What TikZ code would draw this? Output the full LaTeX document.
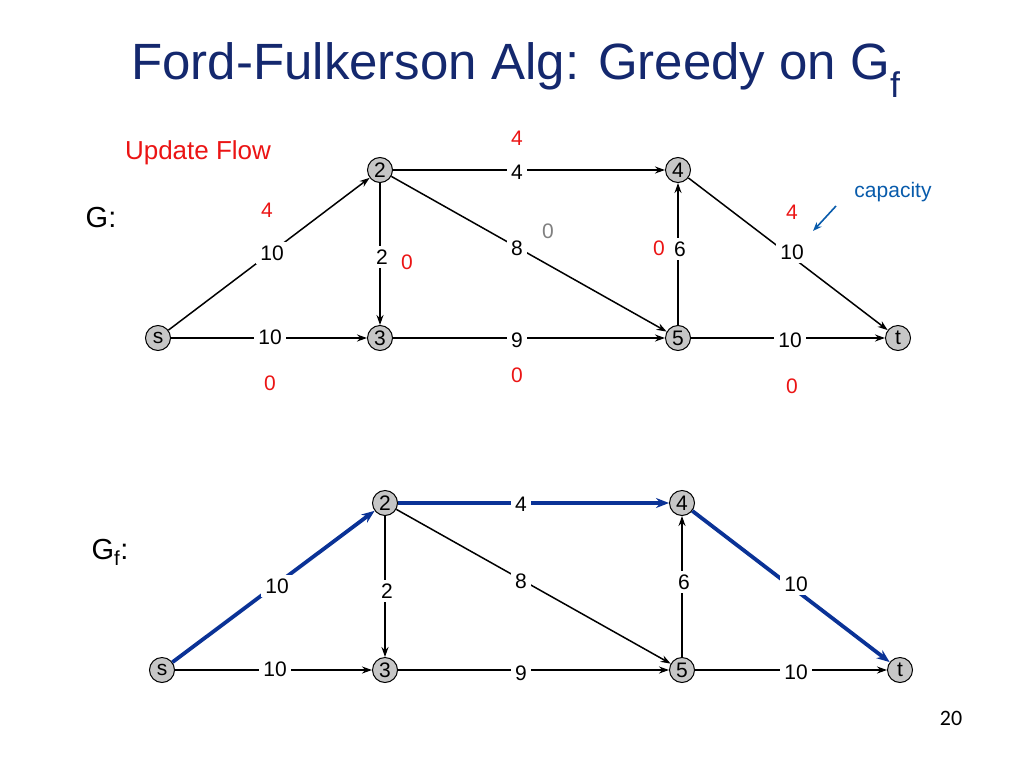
\documentclass[tikz,border=0pt]{standalone}
\usepackage{fontspec}
\setmainfont{Liberation Sans}
\newfontfamily\pgfont{Carlito}
\usetikzlibrary{arrows.meta}
\definecolor{ttl}{RGB}{20,40,110}
\definecolor{pathblue}{RGB}{10,50,150}
\definecolor{redf}{RGB}{235,20,20}
\begin{document}
\begin{tikzpicture}[x=1pt,y=-1pt,
  vert/.style={circle,draw,fill=gray!45,line width=1pt,minimum size=25pt,inner sep=0pt,font=\fontsize{21}{21}\selectfont},
  edge/.style={line width=1.5pt,-{Stealth[length=10pt,width=7pt]}},
  pth/.style={line width=3.8pt,draw=pathblue,-{Stealth[length=13pt,width=10pt]}},
  lab/.style={fill=white,inner sep=4pt,font=\fontsize{21}{21}\selectfont},
  flow/.style={text=redf,font=\fontsize{21}{21}\selectfont},
  ]
\useasboundingbox (0,0) rectangle (1024,768);
\node (title) at (516,70) {\textcolor{ttl}{\fontsize{51}{51}\selectfont Ford-Fulkerson Alg: Greedy on G\textsubscript{f}}};
\node[text=redf,font=\fontsize{26}{26}\selectfont] (uf) at (198,153) {Update Flow};
\node[font=\fontsize{29}{29}\selectfont] (g) at (101,218) {G:};
\node[font=\fontsize{29}{29}\selectfont] (gf) at (110,552) {G\textsubscript{f}:};
\node[text=pathblue!80!cyan,font=\fontsize{21}{21}\selectfont] (cap) at (893,192) {capacity};
\coordinate (ca) at (836,206); \coordinate (cb) at (813,231);
\draw[draw=pathblue!80!cyan,line width=1.6pt,-{Stealth[length=9pt]}] (ca) -- (cb);
\node[font=\pgfont\fontsize{22}{22}\selectfont] (pg) at (951,718) {20};
% top graph
\node[vert] (s) at (158,338) {s};
\node[vert] (n2) at (380,170) {2};
\node[vert] (n3) at (380,338) {3};
\node[vert] (n4) at (678,170) {4};
\node[vert] (n5) at (678,338) {5};
\node[vert] (t) at (898,338) {t};
\draw[edge] (s) -- (n2);
\draw[edge] (s) -- (n3);
\draw[edge] (n2) -- (n3);
\draw[edge] (n2) -- (n4);
\draw[edge] (n2) -- (n5);
\draw[edge] (n3) -- (n5);
\draw[edge] (n5) -- (n4);
\draw[edge] (n4) -- (t);
\draw[edge] (n5) -- (t);
\node[lab] (a1) at (272,253) {10};
\node[lab] (a2) at (382,257) {2};
\node[lab] (a3) at (517,172) {4};
\node[lab] (a4) at (517,248) {8};
\node[lab] (a5) at (680,249) {6};
\node[lab] (a6) at (792,252) {10};
\node[lab] (a7) at (270,337) {10};
\node[lab] (a8) at (517,340) {9};
\node[lab] (a9) at (790,340) {10};
\node[flow] (f1) at (517,138) {4};
\node[flow] (f2) at (267,210) {4};
\node[flow] (f3) at (407,262) {0};
\node[text=gray,font=\fontsize{21}{21}\selectfont] (f4) at (548,231) {0};
\node[flow] (f5) at (659,248) {0};
\node[flow] (f6) at (792,212) {4};
\node[flow] (f7) at (270,383) {0};
\node[flow] (f8) at (517,375) {0};
\node[flow] (f9) at (792,386) {0};
% bottom graph
\node[vert] (bs) at (162,670) {s};
\node[vert] (b2) at (385,503) {2};
\node[vert] (b3) at (385,670) {3};
\node[vert] (b4) at (682,503) {4};
\node[vert] (b5) at (682,670) {5};
\node[vert] (bt) at (900,670) {t};
\draw[pth] (bs) -- (b2);
\draw[edge] (bs) -- (b3);
\draw[edge] (b2) -- (b3);
\draw[pth] (b2) -- (b4);
\draw[edge] (b2) -- (b5);
\draw[edge] (b3) -- (b5);
\draw[edge] (b5) -- (b4);
\draw[pth] (b4) -- (bt);
\draw[edge] (b5) -- (bt);
\node[lab] (c1) at (277,586) {10};
\node[lab] (c2) at (387,591) {2};
\node[lab] (c3) at (521,504) {4};
\node[lab] (c4) at (521,581) {8};
\node[lab] (c5) at (684,582) {6};
\node[lab] (c6) at (796,584) {10};
\node[lab] (c7) at (275,669) {10};
\node[lab] (c8) at (521,673) {9};
\node[lab] (c9) at (796,672) {10};
\end{tikzpicture}
\end{document}
